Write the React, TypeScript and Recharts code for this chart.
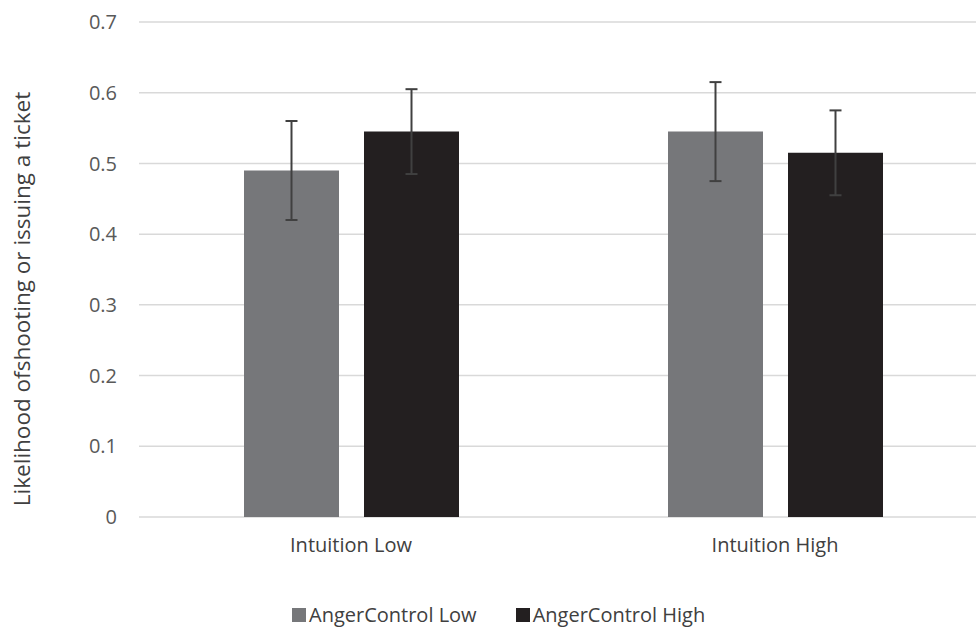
import { BarChart, Bar, XAxis, YAxis, CartesianGrid, ErrorBar } from "recharts"

const categories = ["Intuition Low", "Intuition High"]
const angerLow = [0.49, 0.545]
const angerLowErr = [0.07, 0.07]
const angerHigh = [0.545, 0.515]
const angerHighErr = [0.06, 0.06]
const yTicks = [0, 0.1, 0.2, 0.3, 0.4, 0.5, 0.6, 0.7]

const GRAY = "#76777A"
const BLACK = "#231F20"
const FONT = "'Open Sans', sans-serif"

const data = categories.map((name, i) => ({
  name,
  low: angerLow[i],
  lowErr: angerLowErr[i],
  high: angerHigh[i],
  highErr: angerHighErr[i],
}))

export default function App() {
  return (
    <div
      style={{
        position: "absolute",
        left: 0,
        top: 0,
        width: 976,
        height: 630,
        overflow: "hidden",
        background: "#fff",
        fontFamily: FONT,
      }}
    >
      <BarChart
        width={1000}
        height={630}
        data={data}
        margin={{ top: 22, right: 13, left: 0, bottom: 83 }}
        barSize={95}
        barGap={25}
      >
        <CartesianGrid vertical={false} stroke="#D9D9D9" strokeWidth={1.5} />
        <XAxis
          dataKey="name"
          height={30}
          axisLine={false}
          tickLine={false}
          tickSize={0}
          tickMargin={21}
          tick={{ fill: "#404040", fontSize: 20, fontFamily: FONT }}
        />
        <YAxis
          width={139}
          domain={[0, 0.7]}
          ticks={yTicks}
          axisLine={false}
          tickLine={false}
          tickSize={0}
          tickMargin={22}
          tickFormatter={(v: number) => (v === 0 ? "0" : v.toFixed(1))}
          tick={{ fill: "#595959", fontSize: 20, fontFamily: FONT }}
        />
        <Bar dataKey="low" fill={GRAY} isAnimationActive={false}>
          <ErrorBar dataKey="lowErr" width={6} stroke="#404040" strokeWidth={2} isAnimationActive={false} />
        </Bar>
        <Bar dataKey="high" fill={BLACK} isAnimationActive={false}>
          <ErrorBar dataKey="highErr" width={6} stroke="#404040" strokeWidth={2} isAnimationActive={false} />
        </Bar>
      </BarChart>

      <div
        style={{
          position: "absolute",
          left: 22,
          top: 299,
          transform: "translate(-50%, -50%) rotate(-90deg)",
          whiteSpace: "nowrap",
          fontSize: 22.5,
          color: "#404040",
          lineHeight: 1,
        }}
      >
        Likelihood ofshooting or issuing a ticket
      </div>

      {/* legend, kept as html under the plot */}
      <div
        style={{
          position: "absolute",
          left: 292,
          top: 605,
          display: "flex",
          alignItems: "center",
          fontSize: 20,
          color: "#404040",
          lineHeight: "20px",
          whiteSpace: "nowrap",
        }}
      >
        <span style={{ width: 14, height: 14, background: GRAY, marginRight: 3 }} />
        <span>AngerControl Low</span>
        <span style={{ width: 14, height: 14, background: BLACK, marginLeft: 39, marginRight: 3 }} />
        <span>AngerControl High</span>
      </div>
    </div>
  )
}
